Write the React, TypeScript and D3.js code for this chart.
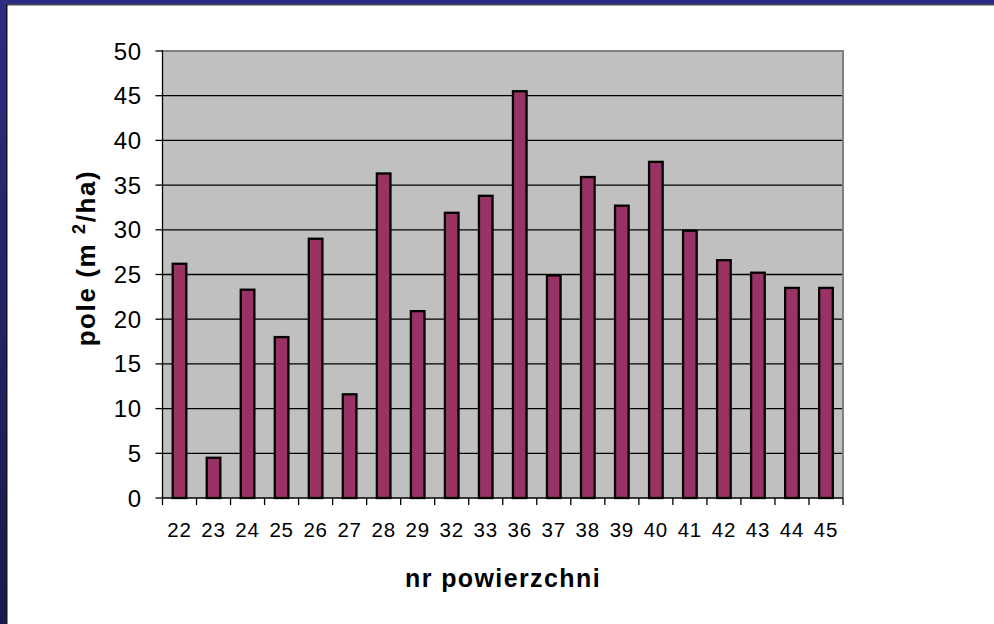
import { useEffect, useRef } from "react"
import * as d3 from "d3"

const categories = ["22", "23", "24", "25", "26", "27", "28", "29", "32", "33", "36", "37", "38", "39", "40", "41", "42", "43", "44", "45"]
const values = [26.2, 4.5, 23.3, 18.0, 29.0, 11.6, 36.3, 20.9, 31.9, 33.8, 45.5, 24.9, 35.9, 32.7, 37.6, 29.9, 26.6, 25.2, 23.5, 23.5]
const yTicks = [0, 5, 10, 15, 20, 25, 30, 35, 40, 45, 50]

const W = 994
const H = 624
const plot = { left: 162.5, right: 843, top: 51, bottom: 498 }
const font = "'Liberation Sans', Arial, sans-serif"

export default function App() {
  const ref = useRef<SVGSVGElement>(null)

  useEffect(() => {
    document.body.style.margin = "0"
    const svg = d3.select(ref.current)
    svg.selectAll("*").remove()

    // slide frame
    const defs = svg.append("defs")
    const grad = defs.append("linearGradient").attr("id", "frame").attr("x1", 0).attr("y1", 0).attr("x2", 0).attr("y2", 1)
    grad.append("stop").attr("offset", "0%").attr("stop-color", "#2c2c82")
    grad.append("stop").attr("offset", "100%").attr("stop-color", "#1a1a4a")

    svg.append("rect").attr("width", W).attr("height", H).attr("fill", "#ffffff")
    svg.append("rect").attr("x", 0).attr("y", 0).attr("width", W).attr("height", 4).attr("fill", "#2c2c82")
    svg.append("rect").attr("x", 0).attr("y", 0).attr("width", 6).attr("height", H).attr("fill", "url(#frame)")
    svg.append("rect").attr("x", 6).attr("y", 4).attr("width", W - 6).attr("height", 1.5).attr("fill", "#4a4a55")
    svg.append("rect").attr("x", 6).attr("y", 4).attr("width", 1.5).attr("height", H).attr("fill", "#15152a")

    const x = d3.scaleBand().domain(categories).range([plot.left, plot.right]).paddingInner(0).paddingOuter(0)
    const y = d3.scaleLinear().domain([0, 50]).range([plot.bottom, plot.top])

    // plot area
    svg.append("rect")
      .attr("x", plot.left).attr("y", plot.top)
      .attr("width", plot.right - plot.left).attr("height", plot.bottom - plot.top)
      .attr("fill", "#c0c0c0")

    svg.append("g")
      .selectAll("line")
      .data(yTicks.filter((t) => t > 0 && t < 50))
      .enter()
      .append("line")
      .attr("x1", plot.left).attr("x2", plot.right)
      .attr("y1", (d) => y(d)).attr("y2", (d) => y(d))
      .attr("stroke", "#000").attr("stroke-width", 1.3)

    // border top and right
    svg.append("path")
      .attr("d", `M${plot.left},${plot.top} H${plot.right} V${plot.bottom}`)
      .attr("fill", "none").attr("stroke", "#808080").attr("stroke-width", 2)

    // bars
    const bw = x.bandwidth() * 0.4
    svg.append("g")
      .selectAll("rect")
      .data(values)
      .enter()
      .append("rect")
      .attr("x", (_, i) => (x(categories[i]) || 0) + x.bandwidth() / 2 - bw / 2)
      .attr("y", (d) => y(d))
      .attr("width", bw)
      .attr("height", (d) => plot.bottom - y(d))
      .attr("fill", "#993366")
      .attr("stroke", "#000")
      .attr("stroke-width", 2.3)

    // y axis
    svg.append("line")
      .attr("x1", plot.left).attr("x2", plot.left)
      .attr("y1", plot.top - 1).attr("y2", plot.bottom)
      .attr("stroke", "#000").attr("stroke-width", 1.3)
    const yg = svg.append("g")
    yg.selectAll("line")
      .data(yTicks)
      .enter()
      .append("line")
      .attr("x1", plot.left - 7).attr("x2", plot.left)
      .attr("y1", (d) => y(d)).attr("y2", (d) => y(d))
      .attr("stroke", "#000").attr("stroke-width", 1.3)
    yg.selectAll("text")
      .data(yTicks)
      .enter()
      .append("text")
      .attr("x", 142)
      .attr("y", (d) => y(d) + 8.5)
      .attr("text-anchor", "end")
      .attr("font-family", font)
      .attr("font-size", 24)
      .attr("letter-spacing", 0.8)
      .attr("fill", "#000")
      .text((d) => d)

    // x axis
    svg.append("line")
      .attr("x1", plot.left).attr("x2", plot.right)
      .attr("y1", plot.bottom).attr("y2", plot.bottom)
      .attr("stroke", "#000").attr("stroke-width", 1.3)
    const edges = categories.map((c) => x(c) || 0).concat([plot.right])
    svg.append("g")
      .selectAll("line")
      .data(edges)
      .enter()
      .append("line")
      .attr("x1", (d) => d).attr("x2", (d) => d)
      .attr("y1", plot.bottom).attr("y2", plot.bottom + 7)
      .attr("stroke", "#000").attr("stroke-width", 1.3)
    svg.append("g")
      .selectAll("text")
      .data(categories)
      .enter()
      .append("text")
      .attr("x", (d) => (x(d) || 0) + x.bandwidth() / 2)
      .attr("y", 537)
      .attr("text-anchor", "middle")
      .attr("font-family", font)
      .attr("font-size", 20.5)
      .attr("letter-spacing", 0.8)
      .attr("fill", "#000")
      .text((d) => d)

    // axis titles
    svg.append("text")
      .attr("x", 503)
      .attr("y", 587)
      .attr("text-anchor", "middle")
      .attr("font-family", font)
      .attr("font-weight", "bold")
      .attr("font-size", 25)
      .attr("letter-spacing", 1.4)
      .attr("fill", "#000")
      .text("nr powierzchni")

    const yt = svg.append("text")
      .attr("transform", "translate(95,258) rotate(-90)")
      .attr("text-anchor", "middle")
      .attr("font-family", font)
      .attr("font-weight", "bold")
      .attr("font-size", 26)
      .attr("letter-spacing", 1.6)
      .attr("fill", "#000")
    yt.append("tspan").text("pole (m ")
    yt.append("tspan").attr("dy", -10).attr("font-size", 18).text("2")
    yt.append("tspan").attr("dy", 10).text("/ha)")
  }, [])

  return (
    <div style={{ width: W, height: H }}>
      <svg ref={ref} width={W} height={H} style={{ display: "block" }} />
    </div>
  )
}
